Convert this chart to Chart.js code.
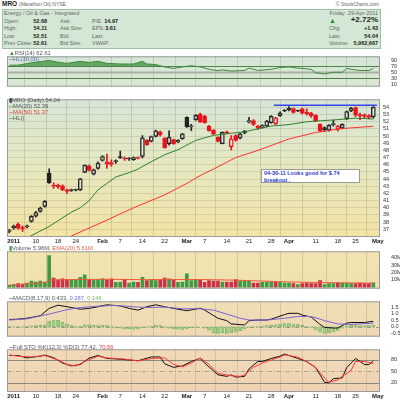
<!DOCTYPE html>
<html>
<head>
<meta charset="utf-8">
<script src="https://cdn.jsdelivr.net/npm/chart.js@4.4.1/dist/chart.umd.min.js"></script>
<style>
  body { margin: 0; width: 400px; height: 400px; background: #fff; position: relative; overflow: hidden;
         font-family: 'Liberation Sans', Arial, sans-serif; color: #666; }
  canvas { position: absolute; left: 0; }
  .t { position: absolute; white-space: nowrap; font-size: 5.5px; line-height: 7px; }
  .v { position: absolute; white-space: nowrap; font-size: 5.5px; line-height: 7px; font-weight: bold; color: #222; text-align: right; }
  .lg { position: absolute; white-space: nowrap; font-size: 5.8px; line-height: 6px; color: #555; }
  #hdr { position: absolute; left: 2px; top: 9px; width: 377px; height: 38px; background: #d3e7d5; border: 1px solid #9dbfa4; }
  #note { position: absolute; left: 261px; top: 169px; width: 99px; height: 14px; background: #fff; border: 1px solid #999;
          color: #2a3ad0; font-weight: bold; font-size: 5.5px; line-height: 6.5px; padding: 0 0 0 2px; box-sizing: border-box; }
</style>
</head>
<body>
<div class="t" style="left:2px;top:0;font-size:6.5px;line-height:8px"><b style="color:#222">MRO</b> <span style="font-size:5px">(Marathon Oil) NYSE</span></div>
<div class="t" style="right:21px;top:1px;font-size:5px">&copy; StockCharts.com</div>
<div id="hdr"></div>
<div class="t" style="left:4px;top:9.5px">Energy / Oil &amp; Gas - Integrated</div>
<div class="t" style="left:4px;top:17.5px">Open:</div><div class="v" style="left:25px;width:22px;top:17.5px">52.68</div>
<div class="t" style="left:4px;top:25px">High:</div><div class="v" style="left:25px;width:22px;top:25px">54.11</div>
<div class="t" style="left:4px;top:32.5px">Low:</div><div class="v" style="left:25px;width:22px;top:32.5px">52.51</div>
<div class="t" style="left:4px;top:40px">Prev Close:</div><div class="v" style="left:25px;width:22px;top:40px">52.61</div>
<div class="t" style="left:60px;top:17.5px">Ask:</div>
<div class="t" style="left:60px;top:25px">Ask Size:</div>
<div class="t" style="left:60px;top:32.5px">Bid:</div>
<div class="t" style="left:60px;top:40px">Bid Size:</div>
<div class="t" style="left:92px;top:17.5px">P/E:</div><div class="v" style="left:100px;width:18px;top:17.5px">14.97</div>
<div class="t" style="left:92px;top:25px">EPS:</div><div class="v" style="left:100px;width:16px;top:25px">3.61</div>
<div class="t" style="left:92px;top:32.5px">Last:</div>
<div class="t" style="left:92px;top:40px">VWAP:</div>
<div class="t" style="right:22px;top:9.5px">Friday &nbsp;29-Apr-2011</div>
<div class="t" style="left:329px;top:16.5px;color:#2a8a2a;font-size:7px">&#9650;</div>
<div class="v" style="right:22px;top:16px;font-size:8px;line-height:8px">+2.72%</div>
<div class="t" style="left:329px;top:25px">Chg:</div><div class="v" style="right:22px;top:25px">+1.43</div>
<div class="t" style="left:329px;top:32.5px">Last:</div><div class="v" style="right:22px;top:32.5px">54.04</div>
<div class="t" style="left:329px;top:40px">Volume:</div><div class="v" style="right:22px;top:40px">5,962,667</div>

<canvas id="rsi" width="400" height="43" style="top:50px"></canvas>
<canvas id="price" width="400" height="152" style="top:93px"></canvas>
<canvas id="vol" width="400" height="50" style="top:245px"></canvas>
<canvas id="macd" width="400" height="48" style="top:295px"></canvas>
<canvas id="sto" width="400" height="57" style="top:343px"></canvas>

<div class="lg" style="left:9px;top:50px"><span style="color:#3a8a3a">&#9650;</span>RSI(14) 62.61</div>
<div class="lg" style="left:9px;top:56px;color:#5a6ab0">&#9472;HL(30,00)</div>
<div class="lg" style="left:9px;top:97px"><span style="color:#333">&#9646;</span>MRO (Daily) 54.04</div>
<div class="lg" style="left:9px;top:103px"><span style="color:#2f7f2f">&#9472;</span>MA(20) 52.39</div>
<div class="lg" style="left:9px;top:109px;color:#e84040">&#9472;MA(50) 51.37</div>
<div class="lg" style="left:9px;top:115px"><span style="color:#2f6f2f">&#9472;</span>HL()</div>
<div id="note">04-30-11 Looks good for $.74<br>breakout .</div>
<div class="lg" style="left:9px;top:245px"><span style="color:#3d9a3d">&#9646;</span>Volume 5.96M, <span style="color:#e06040">EMA(20) 5.61M</span></div>
<div class="lg" style="left:9px;top:295px"><span style="color:#111">&#9472;</span>MACD(8,17,9) 0.433, <span style="color:#7a64d8">0.287,</span> <span style="color:#7ab86a">0.146</span></div>
<div class="lg" style="left:9px;top:344px"><span style="color:#111">&#9472;</span>Full STO %K(12,3) %D(3) 77.42, <span style="color:#e84040">70.56</span></div>

<script>
// ── date axis: trading-day number (0 = 3-Jan-2011) and its label ──
const tickDay  = [0, 5, 10, 14, 20, 24, 29, 34, 39, 43, 48, 53, 58, 62, 68, 73, 77, 82];
const tickText = ['2011', '10', '18', '24', 'Feb', '7', '14', '22', 'Mar', '7', '14', '21', '28', 'Apr', '11', '18', '25', 'May'];

// ── daily candles, 31-Dec-2010 (day -1) .. 29-Apr-2011 (day 81) ──
const open = [36.7, 37.2, 37.7, 37.2, 37.35, 38.1, 38.85, 39.5, 40.2, 44.85, 43.15, 43.15, 43.05, 42.5, 42.4, 42.45, 42.5, 44.95, 45.85, 44.7, 45.5,
  46.6, 46.4, 46.3, 46.45, 47.15, 46.9, 46.8, 46.7, 46.9, 47.17, 49.4, 49.27, 49.95, 50.61, 49.72, 48.96, 49.5, 49.18, 49.63,
  52.62, 51.28, 52.3, 53.06, 52.75, 51.41, 50.83, 49.85, 48.96, 50.55, 48.51, 50.07, 49.72, 50.7, 51.95, 52.17, 51.41, 51.2, 51.41, 51.86, 51.72, 52.84, 53.55,
  53.87, 53.85, 53.55, 53.8, 53.3, 53.2, 52.9, 51.63, 51.19, 50.83, 51.6, 50.96, 51.1, 52.44, 53.51, 53.96, 52.9, 52.95, 52.85, 52.68];
const high = [37.0, 37.6, 37.9, 37.5, 37.6, 38.9, 39.5, 40.1, 41.0, 45.45, 43.5, 43.3, 43.2, 42.6, 42.6, 42.6, 44.1, 46.0, 45.95, 45.4, 46.4,
  47.3, 47.5, 46.7, 46.7, 47.9, 47.1, 47.0, 47.1, 47.1, 50.07, 49.5, 50.0, 50.85, 50.7, 49.8, 50.74, 49.6, 49.5, 50.4,
  52.7, 51.64, 53.0, 53.2, 52.9, 51.5, 50.9, 49.9, 50.6, 50.7, 50.07, 50.2, 50.4, 50.8, 52.6, 52.3, 51.5, 51.6, 52.2, 52.85, 52.6, 53.4, 53.7,
  54.1, 53.95, 53.6, 53.9, 53.8, 53.3, 53.0, 51.7, 51.3, 51.6, 52.2, 51.5, 51.7, 53.5, 54.0, 54.05, 53.2, 53.1, 53.0, 54.11];
const low = [36.5, 37.0, 37.0, 36.7, 37.2, 38.0, 38.7, 39.4, 40.1, 43.4, 42.7, 42.7, 42.4, 42.0, 42.3, 42.35, 42.4, 44.9, 45.1, 44.6, 45.4,
  46.5, 45.5, 45.8, 46.2, 46.9, 46.6, 46.6, 46.6, 46.8, 46.95, 48.7, 49.2, 49.9, 50.0, 48.3, 48.73, 48.85, 49.1, 49.55,
  51.2, 50.74, 52.2, 51.9, 51.8, 50.7, 50.2, 49.2, 48.9, 50.3, 48.07, 49.3, 49.6, 50.3, 51.85, 51.5, 50.9, 51.1, 51.3, 51.8, 51.6, 52.75, 53.4,
  53.5, 53.2, 53.4, 53.1, 52.9, 52.6, 52.0, 50.6, 50.6, 50.7, 51.4, 50.7, 51.0, 52.3, 53.4, 52.7, 52.3, 52.5, 52.4, 52.51];
const close = [36.9, 37.45, 37.15, 37.1, 37.5, 38.8, 39.35, 39.95, 40.9, 43.5, 43.0, 42.95, 42.5, 42.3, 42.5, 42.5, 44.05, 45.95, 45.2, 45.3, 46.25,
  47.15, 46.1, 46.05, 46.5, 46.95, 46.8, 46.85, 47.0, 46.95, 49.76, 48.82, 49.94, 50.74, 50.16, 48.38, 49.85, 48.96, 49.4, 50.3,
  51.28, 51.41, 52.88, 51.95, 51.86, 50.74, 50.3, 49.27, 50.52, 50.45, 49.63, 49.4, 50.3, 50.43, 52.17, 51.63, 51.1, 51.45, 52.08, 52.75, 52.53, 53.2, 53.5,
  53.64, 53.3, 53.5, 53.2, 53.1, 52.8, 52.1, 50.74, 50.9, 51.5, 51.75, 51.41, 51.63, 53.42, 53.87, 52.9, 52.85, 52.75, 52.61, 54.04];
// volume in millions, same days
const volume = [2.4, 3.7, 4.8, 3.7, 5.8, 8.2, 7.1, 8.2, 7.1, 43.2, 12.6, 9.9, 11.6, 9.9, 10.5, 9.9, 13.6, 16.9, 10.5, 9.9, 9.9,
  11.6, 9.9, 11.6, 6.5, 7.1, 9.9, 5.8, 7.1, 6.5, 13.6, 9.2, 9.9, 9.2, 9.9, 12.6, 11.6, 10.5, 6.5, 7.1,
  18.4, 9.2, 9.9, 9.9, 6.5, 9.2, 8.2, 8.2, 7.1, 7.1, 7.1, 10.5, 8.2, 8.2, 8.2, 5.8, 5.8, 6.5, 7.1, 7.1, 6.5, 6.5, 5.8,
  5.8, 4.8, 3.7, 4.8, 5.8, 4.8, 4.8, 9.2, 3.7, 4.8, 4.8, 5.8, 5.8, 5.8, 4.8, 4.8, 5.8, 4.8, 4.8, 5.96];
// MACD histogram, same days
const macdHist = [0.03, 0.03, 0.02, 0.03, 0.05, 0.08, 0.1, 0.12, 0.15, 0.45, 0.53, 0.5, 0.35, 0.2, 0.1, 0.05, 0.05, 0.15, 0.15, 0.12, 0.1,
  0.12, 0.1, 0.02, -0.05, -0.1, -0.15, -0.15, -0.18, -0.15, -0.05, 0.02, 0.05, 0.12, 0.1, 0.02, -0.1, -0.15, -0.18, -0.2,
  -0.12, -0.06, -0.03, 0.0, -0.1, -0.25, -0.45, -0.5, -0.45, -0.5, -0.45, -0.4, -0.3, -0.15, -0.05, 0.02, 0.02, 0.05, 0.1, 0.12, 0.15, 0.2, 0.25,
  0.25, 0.22, 0.18, 0.12, 0.05, -0.05, -0.25, -0.4, -0.5, -0.45, -0.38, -0.28, -0.1, 0.08, 0.12, 0.1, 0.08, 0.08, 0.1, 0.146];

// ── overlay / indicator lines, read as [day, value] ──
const ma20 = [[3, 35.8], [8, 37.4], [13, 39.4], [15, 40.0], [17, 41.0], [19, 42.5], [21, 43.4], [23, 44.3], [26, 44.9], [28, 45.4], [30, 46.1], [34, 47.4],
  [37, 48.1], [41, 49.4], [45, 50.1], [49, 50.4], [52, 50.6], [55, 51.0], [58, 51.4], [62, 51.6], [66, 52.0], [73, 52.3], [77, 52.5], [81, 52.39]];
const ma50 = [[12, 35.8], [20, 38.0], [27, 40.0], [34, 41.8], [39, 43.4], [42, 44.5], [45, 45.4], [50, 47.0], [55, 48.0], [62, 49.6],
  [68, 50.5], [74, 51.05], [81, 51.37]];
const resistance = [[58.6, 54.3], [81.8, 54.3]];
const volEma = [[-1, 3.0], [4, 5.0], [7, 6.0], [8, 9.5], [12, 10.3], [20, 10.8], [30, 10.3], [40, 10.5], [44, 10.3], [50, 9.6], [56, 8.4],
  [62, 7.2], [68, 6.4], [74, 6.0], [81, 5.61]];
const rsi = [[-1, 73.8], [1, 74], [4, 82], [8, 90], [10, 84], [12, 80], [15, 87], [17, 83], [19, 87], [21, 80], [24, 78], [27, 78], [29, 87],
  [30, 78], [32, 76], [34, 68], [36, 63], [38, 68], [40, 72], [42, 68], [44, 60], [46, 55], [47, 58], [49, 54], [52, 56], [53, 64], [55, 56],
  [58, 60], [60, 66], [62, 68], [64, 64], [67, 60], [68, 48], [70, 44], [72, 50], [74, 50], [75, 63], [76, 60], [78, 56], [80, 56], [81, 62.61]];
const macdLine = [[-1, 0.57], [1, 0.6], [3, 0.67], [6, 0.86], [8, 1.43], [10, 1.68], [12, 1.56], [15, 1.37], [17, 1.43], [19, 1.56], [21, 1.71],
  [24, 1.62], [26, 1.43], [28, 1.3], [30, 1.56], [32, 1.71], [34, 1.56], [37, 1.37], [39, 1.25], [41, 1.37], [42, 1.45], [43, 1.3], [46, 0.67],
  [48, 0.48], [49, 0.23], [52, 0.15], [53, 0.48], [55, 0.53], [57, 0.53], [58, 0.6], [61, 0.95], [62, 1.05], [64, 1.05], [65, 0.91], [67, 0.76],
  [69, 0.19], [70, -0.04], [72, -0.09], [73, -0.09], [75, 0.29], [76, 0.34], [79, 0.34], [81, 0.433]];
const macdSignal = [[-1, 0.53], [3, 0.62], [8, 0.99], [12, 1.33], [15, 1.5], [19, 1.6], [23, 1.66], [27, 1.56], [30, 1.5], [34, 1.53], [38, 1.4],
  [42, 1.4], [45, 1.3], [48, 0.99], [51, 0.67], [53, 0.53], [57, 0.53], [61, 0.67], [64, 0.8], [67, 0.8], [69, 0.6], [70, 0.48], [73, 0.23],
  [76, 0.19], [78, 0.23], [81, 0.287]];
const stoK = [[-1, 91.7], [1, 91.7], [3, 85.4], [6, 90], [7, 93], [9, 86], [11, 72], [13, 64.4], [15, 68], [17, 85], [19, 91.7], [21, 84],
  [24, 82], [26, 80], [28, 78], [31, 88], [33, 88], [34, 70], [36, 60.6], [38, 64.4], [40, 76], [42, 84], [43, 72], [46, 41], [48, 37], [49, 41],
  [50, 35], [52, 37], [53, 56.6], [55, 76], [56, 76], [58, 84], [60, 90], [61, 95.6], [64, 84], [66, 76], [68, 60], [70, 21.6], [71, 20],
  [72, 31], [74, 33], [75, 60], [77, 84], [79, 68], [80, 68], [81, 77.42]];
const stoD = [[-1, 93.3], [1, 90], [4, 87.7], [7, 91.7], [10, 80], [12, 68.3], [14, 64.4], [16, 76], [19, 90], [21, 85.4], [25, 82.3], [28, 77.6],
  [31, 83.8], [34, 85.4], [36, 68.3], [38, 62], [40, 72], [42, 85.4], [44, 68.3], [46, 45], [49, 38.7], [51, 37], [52, 41], [54, 60.6], [56, 72],
  [58, 80], [60, 87.7], [61, 93.3], [64, 87.7], [66, 76], [68, 60.6], [70, 33], [71, 21.6], [73, 27.8], [74, 37], [76, 52.7], [77, 76],
  [79, 76], [81, 70.56]];

// ── right-axis tick values ──
const rsiTicks = [10, 30, 50, 70, 90];
const priceTicks = [37, 38, 39, 40, 41, 42, 43, 44, 45, 46, 47, 48, 49, 50, 51, 52, 53, 54];
const volTicks = [10, 20, 30, 40];
const macdTicks = [-0.5, 0, 0.5, 1, 1.5];
const stoTicks = [20, 50, 80];

// ── plugins ──
const panelBg = {
  id: 'panelBg',
  beforeDraw(chart, args, o) {
    const { ctx, chartArea: a } = chart;
    const g = ctx.createLinearGradient(0, a.top, 0, a.bottom);
    o.stops.forEach(([p, c]) => g.addColorStop(p, c));
    ctx.save();
    ctx.fillStyle = g;
    ctx.fillRect(a.left, a.top, a.right - a.left, a.bottom - a.top);
    ctx.restore();
  },
  afterDraw(chart) {
    const { ctx, chartArea: a } = chart;
    ctx.save();
    ctx.strokeStyle = '#9a9a9a';
    ctx.lineWidth = 1;
    ctx.strokeRect(a.left + 0.5, a.top + 0.5, a.right - a.left - 1, a.bottom - a.top - 1);
    ctx.restore();
  }
};

// horizontal reference levels drawn through the y scale
const refLines = {
  id: 'refLines',
  beforeDatasetsDraw(chart, args, o) {
    if (!o.lines) return;
    const { ctx, chartArea: a, scales: { y } } = chart;
    ctx.save();
    for (const l of o.lines) {
      const py = Math.round(y.getPixelForValue(l.value)) + 0.5;
      ctx.strokeStyle = l.color;
      ctx.lineWidth = l.width || 1;
      ctx.setLineDash(l.dash || []);
      ctx.beginPath();
      ctx.moveTo(a.left, py);
      ctx.lineTo(a.right, py);
      ctx.stroke();
    }
    ctx.restore();
  }
};
Chart.register(panelBg, refLines);

const FONT = 'Liberation Sans';
const pts = arr => arr.map(([d, v]) => ({ x: d, y: v }));
const days = open.map((_, k) => k - 1);

function xAxis(labels) {
  return {
    type: 'linear', min: -1.5, max: 82.5, offset: false,
    afterBuildTicks: s => { s.ticks = tickDay.map(v => ({ value: v })); },
    afterFit: s => { s.height = labels ? 8 : 0; },
    grid: { color: 'rgba(110,110,80,0.22)', drawTicks: false },
    border: { display: false },
    ticks: {
      display: labels, autoSkip: false, maxRotation: 0, padding: 1, color: '#222',
      font: c => ({ family: FONT, size: 6, weight: isNaN(+tickText[c.index]) || tickText[c.index] === '2011' ? 'bold' : 'normal' }),
      callback: (v, i) => tickText[i]
    }
  };
}

function yAxis(min, max, ticks, fmt, gridColor) {
  return {
    position: 'right', min, max,
    afterBuildTicks: s => { s.ticks = ticks.map(v => ({ value: v })); },
    afterFit: s => { s.width = 20; },
    grid: gridColor ? { color: gridColor, drawTicks: false } : { display: false },
    border: { display: false },
    ticks: { color: '#333', padding: 3, autoSkip: false, font: { family: FONT, size: 5.5 }, callback: v => fmt(v) }
  };
}

function panel(id, datasets, x, y, stops, lines) {
  return new Chart(document.getElementById(id), {
    type: 'bar',
    data: { datasets },
    options: {
      responsive: false, animation: false, events: [],
      layout: { padding: { left: 7, right: 0, top: 0, bottom: 0 } },
      scales: { x, y },
      plugins: { legend: { display: false }, tooltip: { enabled: false }, panelBg: { stops }, refLines: { lines } }
    }
  });
}

const lineDs = (data, color, extra) => Object.assign({
  type: 'line', data: pts(data), borderColor: color, borderWidth: 1, pointRadius: 0, tension: 0, order: 0
}, extra);

// ── RSI ──
panel('rsi', [
  lineDs(rsi, '#3f8a3f', { fill: { target: { value: 70 }, above: '#62a862', below: 'rgba(0,0,0,0)' } })
], xAxis(false), yAxis(1, 104, rsiTicks, v => v), [[0, '#d5e6d7'], [1, '#dbe8d3']],
  [{ value: 70, color: '#4d7d4d' }, { value: 50, color: '#a9b0a6', width: 2 }, { value: 30, color: '#4d7d4d' }]);

// ── price candles ──
const isUp = close.map((c, k) => k === 0 || c >= close[k - 1]);
const ink = isUp.map(u => u ? '#222222' : '#e8141c');
const bodyLo = open.map((o, k) => Math.min(o, close[k]));
const bodyHi = open.map((o, k) => Math.max(o, close[k]));
const bodyFill = close.map((c, k) => c > open[k] ? 'rgba(255,255,255,0.35)' : ink[k]);

panel('price', [
  lineDs(ma20, '#2f7f2f'),
  lineDs(ma50, '#ff3030'),
  lineDs(resistance, '#3344ee', { borderWidth: 1.5 }),
  { data: days.map((d, k) => ({ x: d, y: [bodyLo[k], bodyHi[k]] })), backgroundColor: bodyFill, borderColor: ink, borderWidth: 1,
    borderSkipped: false, barThickness: 4, minBarLength: 1, grouped: false, order: 1 },
  { data: days.map((d, k) => ({ x: d, y: [bodyHi[k], high[k]] })), backgroundColor: ink, barThickness: 1, grouped: false, order: 2 },
  { data: days.map((d, k) => ({ x: d, y: [low[k], bodyLo[k]] })), backgroundColor: ink, barThickness: 1, grouped: false, order: 2 }
], xAxis(true), yAxis(35.93, 55.13, priceTicks, v => v, 'rgba(110,110,80,0.18)'),
  [[0, '#d6e6d7'], [0.45, '#e5e8c2'], [1, '#f3e3a6']]);

// ── volume ──
panel('vol', [
  lineDs(volEma, '#f05a3a'),
  { data: days.map((d, k) => ({ x: d, y: volume[k] })), backgroundColor: isUp.map(u => u ? '#3f9a44' : '#cc2e4c'),
    barThickness: 3, grouped: false, order: 1 }
], xAxis(false), yAxis(-2.04, 49, volTicks, v => v + 'M'), [[0, '#f2e5b2'], [1, '#efdfae']]);

// ── MACD ──
panel('macd', [
  lineDs(macdSignal, '#7a64d8'),
  lineDs(macdLine, '#111111'),
  { data: days.map((d, k) => ({ x: d, y: macdHist[k] })), backgroundColor: '#9ccc82', borderColor: '#6aa45a', borderWidth: 0.5,
    borderSkipped: false, barThickness: 3, grouped: false, order: 1 }
], xAxis(false), yAxis(-0.76, 1.98, macdTicks, v => v.toFixed(1)), [[0, '#f0dfb6'], [1, '#efd8b2']],
  [{ value: 0, color: '#9a9a8a', dash: [4, 2, 1, 2] }]);

// ── Full stochastics ──
panel('sto', [
  lineDs(stoD, '#ff3a3a'),
  lineDs(stoK, '#111111')
], xAxis(true), yAxis(-4, 108, stoTicks, v => v), [[0, '#f1dab8'], [1, '#efd2b2']],
  [{ value: 80, color: '#8a8a80' }, { value: 50, color: '#a8a090', dash: [4, 2, 1, 2] }, { value: 20, color: '#8a8a80' }]);
</script>
</body>
</html>
